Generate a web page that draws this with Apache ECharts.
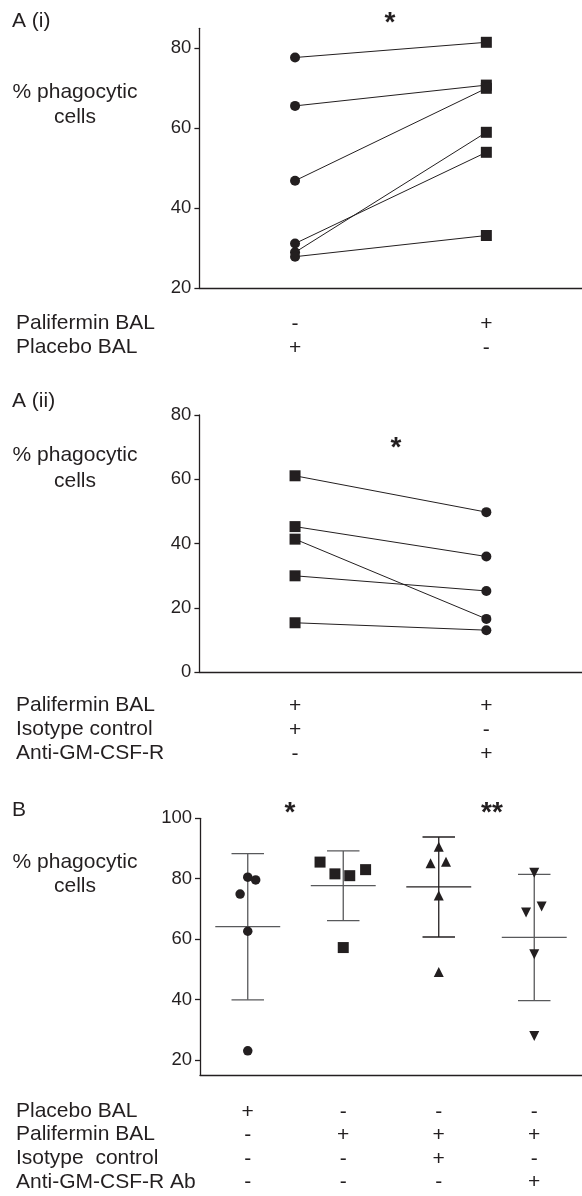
<!DOCTYPE html>
<html>
<head>
<meta charset="utf-8">
<script src="https://cdn.jsdelivr.net/npm/echarts@6/dist/echarts.min.js"></script>
<style>
  html, body { margin: 0; padding: 0; background: #fff; }
  #main { width: 582px; height: 1196px; }
</style>
</head>
<body>
<div id="main"></div>
<script>
// A (i): paired samples, placebo BAL vs palifermin BAL
let a1Cats = ['Placebo', 'Palifermin'];
let a1Placebo = [77.7, 65.6, 46.9, 31.2, 29.0, 27.9];
let a1Palifermin = [81.5, 70.8, 70.0, 54.0, 59.0, 33.2];
let a1Rows = ['Palifermin BAL', 'Placebo BAL'];
let a1Signs = [['-', '+'], ['+', '-']];
let a1Ticks = [20, 40, 60, 80];

// A (ii): palifermin BAL + isotype control vs + anti-GM-CSF-R
let a2Cats = ['Isotype', 'AntiGM'];
let a2Isotype = [61.1, 45.3, 41.4, 30.0, 15.4];
let a2AntiGM = [49.8, 36.0, 16.6, 25.3, 13.1];
let a2Rows = ['Palifermin BAL', 'Isotype control', 'Anti-GM-CSF-R'];
let a2Signs = [['+', '+', '-'], ['+', '-', '+']];
let a2Ticks = [0, 20, 40, 60, 80];

// B: four conditions, points with mean and SD
let bCats = ['Placebo', 'Palifermin', 'Isotype', 'AntiGM'];
let bPlacebo = [80.5, 79.6, 74.9, 62.6, 23.0];
let bPalifermin = [85.5, 81.6, 81.0, 83.0, 57.2];
let bIsotype = [90.6, 85.1, 85.6, 74.4, 49.1];
let bAntiGM = [82.0, 68.8, 70.8, 55.0, 27.9];
// horizontal scatter of the dots inside each group (in group widths)
let bPlaceboJitter = [0, 0.083, -0.08, 0, 0];
let bPaliferminJitter = [-0.243, -0.087, 0.068, 0.234, 0];
let bIsotypeJitter = [0, -0.086, 0.076, 0, 0];
let bAntiGMJitter = [0, -0.086, 0.077, 0, 0];
let bMean = [64.1, 77.7, 77.3, 60.6];
let bErrLow = [39.9, 66.1, 60.7, 39.6];
let bErrHigh = [88.3, 89.2, 93.8, 81.4];
let bRows = ['Placebo BAL', 'Palifermin BAL', 'Isotype  control', 'Anti-GM-CSF-R Ab'];
let bSigns = [['+', '-', '-', '-'], ['-', '+', '-', '-'], ['-', '+', '+', '-'], ['-', '+', '-', '+']];
let bTicks = [20, 40, 60, 80, 100];

let ink = '#231f20';
let grey = '#58595b';
let font = '"Liberation Sans", Arial, Helvetica, sans-serif';
let barColors = [grey, grey, ink, grey];

let chartDom = document.getElementById('main');
let myChart = echarts.init(chartDom);

function yAxisOf(gi, min, max, ticks) {
  return {
    type: 'value',
    gridIndex: gi,
    min: min,
    max: max,
    axisLine: { show: true, lineStyle: { color: ink, width: 1.3 } },
    axisTick: { show: true, length: 5, lineStyle: { color: ink, width: 1.3 }, customValues: ticks },
    axisLabel: { color: ink, fontSize: 18.5, fontFamily: font, margin: 8, customValues: ticks },
    splitLine: { show: false }
  };
}

function signAxis(gi, cats, signs, lh, margin) {
  return {
    type: 'category',
    gridIndex: gi,
    data: cats,
    boundaryGap: true,
    axisLine: { show: true, lineStyle: { color: ink, width: 1.3 } },
    axisTick: { show: false },
    axisLabel: {
      interval: 0,
      color: ink,
      fontSize: 21,
      fontFamily: font,
      lineHeight: lh,
      margin: margin,
      verticalAlign: 'top',
      formatter: function (v, i) {
        return signs[i].join('\n');
      }
    }
  };
}

function text(x, y, str, align) {
  return {
    type: 'text',
    x: x,
    y: y,
    style: {
      text: str,
      fill: ink,
      font: '21px ' + font,
      textAlign: align || 'left',
      textVerticalAlign: 'middle'
    }
  };
}

function star(x, y, str) {
  return {
    type: 'text',
    x: x,
    y: y,
    style: {
      text: str,
      fill: ink,
      font: 'bold 28px ' + font,
      textAlign: 'center',
      textVerticalAlign: 'middle'
    }
  };
}

let series = [];

// A (i) lines
a1Placebo.forEach(function (v, k) {
  series.push({
    type: 'line',
    xAxisIndex: 0,
    yAxisIndex: 0,
    data: [
      { value: v, symbol: 'circle', symbolSize: 10 },
      { value: a1Palifermin[k], symbol: 'rect', symbolSize: 11 }
    ],
    lineStyle: { color: ink, width: 1 },
    itemStyle: { color: ink, opacity: 1 },
    showSymbol: true,
    silent: true
  });
});

// A (ii) lines
a2Isotype.forEach(function (v, k) {
  series.push({
    type: 'line',
    xAxisIndex: 1,
    yAxisIndex: 1,
    data: [
      { value: v, symbol: 'rect', symbolSize: 11 },
      { value: a2AntiGM[k], symbol: 'circle', symbolSize: 10 }
    ],
    lineStyle: { color: ink, width: 1 },
    itemStyle: { color: ink, opacity: 1 },
    showSymbol: true,
    silent: true
  });
});

// B error bars + mean
series.push({
  type: 'custom',
  xAxisIndex: 3,
  yAxisIndex: 2,
  encode: { x: 0, y: 1 },
  data: bMean.map(function (m, i) { return [i + 0.5, m, bErrLow[i], bErrHigh[i]]; }),
  renderItem: function (params, api) {
    let x = api.value(0), m = api.value(1), lo = api.value(2), hi = api.value(3);
    let c = barColors[params.dataIndex];
    let top = api.coord([x, hi]), bot = api.coord([x, lo]);
    let capL = api.coord([x - 0.17, hi])[0], capR = api.coord([x + 0.17, hi])[0];
    let meanL = api.coord([x - 0.34, m]), meanR = api.coord([x + 0.34, m]);
    let st = { stroke: c, lineWidth: 1.3 };
    return {
      type: 'group',
      children: [
        { type: 'line', shape: { x1: top[0], y1: top[1], x2: bot[0], y2: bot[1] }, style: st },
        { type: 'line', shape: { x1: capL, y1: top[1], x2: capR, y2: top[1] }, style: st },
        { type: 'line', shape: { x1: capL, y1: bot[1], x2: capR, y2: bot[1] }, style: st },
        { type: 'line', shape: { x1: meanL[0], y1: meanL[1], x2: meanR[0], y2: meanR[1] }, style: st }
      ]
    };
  },
  silent: true,
  z: 1
});

function bScatter(vals, jit, gi, symbol, size, rotate) {
  return {
    type: 'scatter',
    xAxisIndex: 3,
    yAxisIndex: 2,
    symbol: symbol,
    symbolSize: size,
    symbolRotate: rotate || 0,
    itemStyle: { color: ink, opacity: 1 },
    data: vals.map(function (v, k) { return [gi + 0.5 + jit[k], v]; }),
    silent: true,
    z: 3
  };
}
series.push(bScatter(bPlacebo, bPlaceboJitter, 0, 'circle', 9.5));
series.push(bScatter(bPalifermin, bPaliferminJitter, 1, 'rect', 11));
series.push(bScatter(bIsotype, bIsotypeJitter, 2, 'triangle', 10));
series.push(bScatter(bAntiGM, bAntiGMJitter, 3, 'triangle', 10, 180));

let graphics = [
  text(12, 21, 'A (i)'),
  text(75, 92, '% phagocytic', 'center'),
  text(75, 117, 'cells', 'center'),
  text(12, 401, 'A (ii)'),
  text(75, 455, '% phagocytic', 'center'),
  text(75, 481, 'cells', 'center'),
  text(12, 810, 'B'),
  text(75, 862, '% phagocytic', 'center'),
  text(75, 886, 'cells', 'center'),
  star(390, 23, '*'),
  star(396, 448, '*'),
  star(290, 813, '*'),
  star(492, 813, '**')
];
a1Rows.forEach(function (r, i) { graphics.push(text(16, 323.5 + i * 24, r)); });
a2Rows.forEach(function (r, i) { graphics.push(text(16, 705.5 + i * 24, r)); });
bRows.forEach(function (r, i) { graphics.push(text(16, 1111 + i * 23.6, r)); });

let option = {
  animation: false,
  backgroundColor: '#fff',
  textStyle: { fontFamily: font },
  grid: [
    { left: 199.4, top: 28.3, width: 385, height: 260 },
    { left: 199.4, top: 415, width: 385, height: 257.3 },
    { left: 200, top: 818.3, width: 386, height: 256.7 }
  ],
  xAxis: [
    signAxis(0, a1Cats, a1Signs, 24, 24),
    signAxis(1, a2Cats, a2Signs, 24, 22),
    signAxis(2, bCats, bSigns, 23.6, 25),
    { type: 'value', gridIndex: 2, min: 0, max: 4, show: false }
  ],
  yAxis: [
    yAxisOf(0, 20, 85, a1Ticks),
    yAxisOf(1, 0, 80, a2Ticks),
    yAxisOf(2, 15, 100, bTicks)
  ],
  graphic: graphics,
  series: series
};

myChart.setOption(option);
window.addEventListener('resize', () => {
  myChart.resize();
});
</script>
</body>
</html>
